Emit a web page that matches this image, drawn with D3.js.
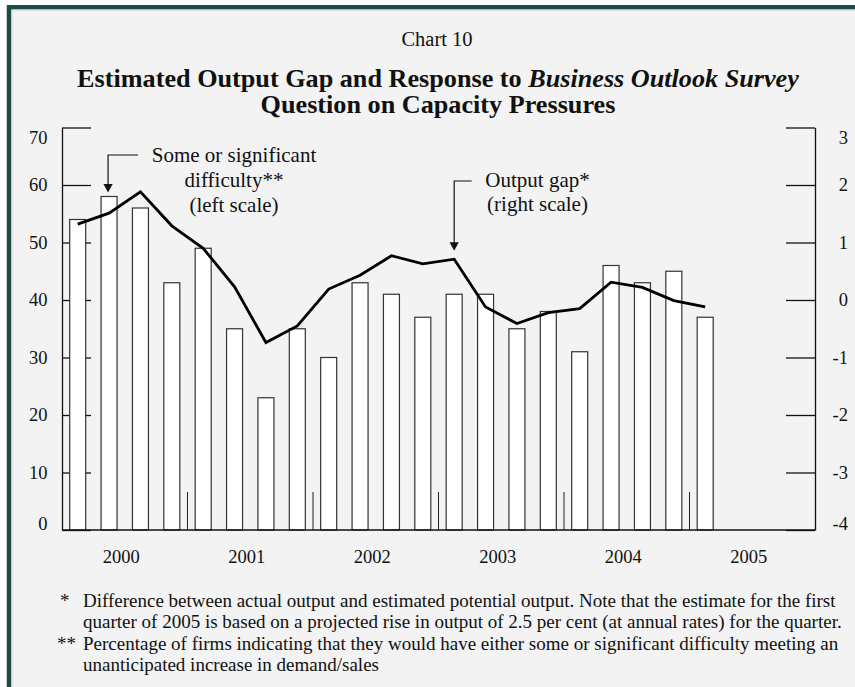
<!DOCTYPE html>
<html>
<head>
<meta charset="utf-8">
<script src="https://cdn.jsdelivr.net/npm/d3@7"></script>
<style>
  html, body { margin: 0; padding: 0; background: #ffffff; }
  svg { display: block; }
  text { font-family: "Liberation Serif", "Times New Roman", serif; fill: #111; }
</style>
</head>
<body>
<script>
// Quarterly observations, 2000Q1 to 2005Q1
const quarters = [
  "2000Q1","2000Q2","2000Q3","2000Q4",
  "2001Q1","2001Q2","2001Q3","2001Q4",
  "2002Q1","2002Q2","2002Q3","2002Q4",
  "2003Q1","2003Q2","2003Q3","2003Q4",
  "2004Q1","2004Q2","2004Q3","2004Q4",
  "2005Q1"
];
// Share of firms reporting some or significant difficulty (left scale, %)
const difficulty = [54, 58, 56, 43, 49, 35, 23, 35, 30, 43, 41, 37, 41, 41, 35, 38, 31, 46, 43, 45, 37];
// Estimated output gap (right scale, % of potential output)
const outputGap = [1.32, 1.51, 1.88, 1.29, 0.90, 0.23, -0.74, -0.45, 0.19, 0.43, 0.77, 0.63, 0.71, -0.12, -0.41, -0.22, -0.15, 0.31, 0.22, -0.01, -0.12];

const years = [2000, 2001, 2002, 2003, 2004, 2005];
const leftTicks = [0, 10, 20, 30, 40, 50, 60, 70];
const rightTicks = [-4, -3, -2, -1, 0, 1, 2, 3];

const W = 855, H = 687;
const plot = { left: 62, right: 815, top: 127.5, bottom: 530 };

const svg = d3.select("body").append("svg").attr("width", W).attr("height", H);

// panel with dark frame
svg.append("rect").attr("x", 0).attr("y", 0).attr("width", W).attr("height", H).attr("fill", "#ffffff");
svg.append("rect")
  .attr("x", 9).attr("y", 7.25).attr("width", W + 20).attr("height", H + 20)
  .attr("fill", "#f2f3f2").attr("stroke", "#1d4a44").attr("stroke-width", 4.5);
svg.append("line").attr("x1", 11.8).attr("x2", 11.8).attr("y1", 10).attr("y2", H)
  .attr("stroke", "#c9d0cd").attr("stroke-width", 1);
svg.append("line").attr("x1", 11.8).attr("x2", W).attr("y1", 10).attr("y2", 10)
  .attr("stroke", "#c9d0cd").attr("stroke-width", 1);

// titles
svg.append("text").attr("x", 437).attr("y", 45.5).attr("text-anchor", "middle")
  .style("font-size", "20.5px").text("Chart 10");
const t1 = svg.append("text").attr("x", 438).attr("y", 86.5).attr("text-anchor", "middle")
  .style("font-size", "26.2px").style("font-weight", "bold");
t1.append("tspan").text("Estimated Output Gap and Response to ");
t1.append("tspan").style("font-style", "italic").text("Business Outlook Survey");
svg.append("text").attr("x", 438).attr("y", 113).attr("text-anchor", "middle")
  .style("font-size", "26.2px").style("font-weight", "bold").text("Question on Capacity Pressures");

// scales
const x = d3.scaleBand()
  .domain(d3.range(24))
  .range([plot.left, plot.right])
  .paddingInner(0.49).paddingOuter(0.245);
const xYear = d3.scaleLinear().domain([2000, 2006]).range([plot.left, plot.right]);
const yL = d3.scaleLinear().domain([0, 70]).range([plot.bottom, plot.top]);
const yR = d3.scaleLinear().domain([-4, 3]).range([plot.bottom, plot.top]);
const cx = i => x(i) + x.bandwidth() / 2;

// left axis (ticks point inward)
const axL = svg.append("g").attr("transform", `translate(${plot.left},0)`)
  .call(d3.axisLeft(yL).tickValues(leftTicks).tickSizeInner(-29).tickSizeOuter(0).tickPadding(14.5));
// right axis
const axR = svg.append("g").attr("transform", `translate(${plot.right},0)`)
  .call(d3.axisRight(yR).tickValues(rightTicks).tickSizeInner(-29).tickSizeOuter(0).tickPadding(33)
    .tickFormat(d => String(d)));
[axL, axR].forEach(g => {
  g.select(".domain").attr("stroke", "#111").attr("stroke-width", 1.3);
  g.selectAll(".tick line").attr("stroke", "#111").attr("stroke-width", 1.3);
  g.selectAll(".tick text").style("font-size", "18.5px").attr("fill", "#111")
    .style("font-family", "'Liberation Serif', 'Times New Roman', serif");
});
axR.selectAll(".tick text").attr("text-anchor", "end");
// keep the end labels inside the frame
axL.selectAll(".tick text").attr("dy", d => d === 70 ? "0.85em" : d === 0 ? "-0.02em" : "0.32em");
axR.selectAll(".tick text").attr("dy", d => d === 3 ? "0.85em" : d === -4 ? "-0.02em" : "0.32em");

// year separators
svg.append("g").selectAll("line").data(years.slice(1)).join("line")
  .attr("x1", d => xYear(d)).attr("x2", d => xYear(d))
  .attr("y1", plot.bottom).attr("y2", plot.bottom - 38)
  .attr("stroke", "#222").attr("stroke-width", 1);

// bars
svg.append("g").selectAll("rect").data(difficulty).join("rect")
  .attr("x", (d, i) => x(i)).attr("width", x.bandwidth())
  .attr("y", d => yL(d)).attr("height", d => yL(0) - yL(d))
  .attr("fill", "#ffffff").attr("stroke", "#333").attr("stroke-width", 1.2);

// bottom axis line
svg.append("line").attr("x1", plot.left).attr("x2", plot.right)
  .attr("y1", plot.bottom).attr("y2", plot.bottom)
  .attr("stroke", "#111").attr("stroke-width", 1.3);

// year labels
svg.append("g").selectAll("text").data(years).join("text")
  .attr("x", d => xYear(d + 0.5) - 3.5).attr("y", 563).attr("text-anchor", "middle")
  .style("font-size", "18.5px").text(d => d);

// output gap line
svg.append("path").datum(outputGap)
  .attr("fill", "none").attr("stroke", "#000").attr("stroke-width", 2.8)
  .attr("stroke-linejoin", "miter")
  .attr("d", d3.line().x((d, i) => cx(i)).y(d => yR(d)));

// annotations
function callout(xTip, yTip, yTop, xEnd) {
  const g = svg.append("g");
  g.append("path")
    .attr("d", `M${xEnd},${yTop}H${xTip}V${yTip - 7}`)
    .attr("fill", "none").attr("stroke", "#111").attr("stroke-width", 1.2);
  g.append("path")
    .attr("d", `M${xTip - 4.6},${yTip - 8.5}L${xTip + 4.6},${yTip - 8.5}L${xTip},${yTip}Z`)
    .attr("fill", "#111");
}
const iDiff = 1, iGap = 12;
callout(cx(iDiff) - 1, yL(difficulty[iDiff]) - 4, 155, cx(iDiff) + 29);
callout(cx(iGap), yR(outputGap[iGap]) - 8.5, 181, cx(iGap) + 17.5);

const lblL = svg.append("text").attr("text-anchor", "middle").style("font-size", "21px");
[["Some or significant", 161.7], ["difficulty**", 186.7], ["(left scale)", 211.7]].forEach(([s, yy]) =>
  lblL.append("tspan").attr("x", 234).attr("y", yy).text(s));
const lblR = svg.append("text").attr("text-anchor", "middle").style("font-size", "21px");
[["Output gap*", 186.7], ["(right scale)", 210.5]].forEach(([s, yy]) =>
  lblR.append("tspan").attr("x", 537.5).attr("y", yy).text(s));

// footnotes
const notes = [
  { mark: "*", mx: 60, lines: ["Difference between actual output and estimated potential output. Note that the estimate for the first",
                               "quarter of 2005 is based on a projected rise in output of 2.5 per cent (at annual rates) for the quarter."], y: 607 },
  { mark: "**", mx: 57, lines: ["Percentage of firms indicating that they would have either some or significant difficulty meeting an",
                                "unanticipated increase in demand/sales"], y: 650 }
];
notes.forEach(n => {
  svg.append("text").attr("x", n.mx).attr("y", n.y).style("font-size", "19px").text(n.mark);
  n.lines.forEach((s, k) =>
    svg.append("text").attr("x", 83).attr("y", n.y + k * 21).style("font-size", "19px").text(s));
});
</script>
</body>
</html>
